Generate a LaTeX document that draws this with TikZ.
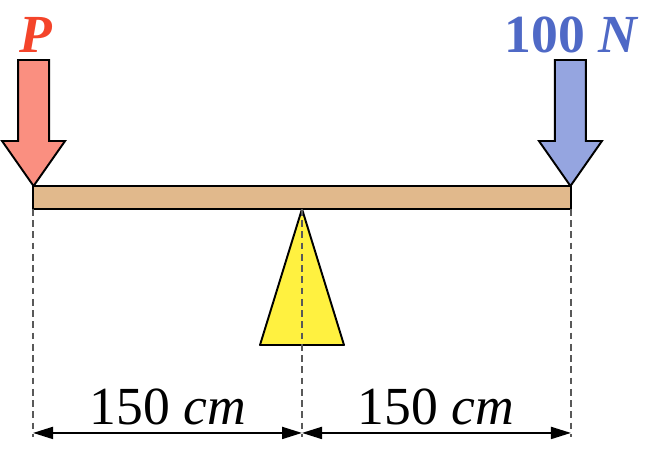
\documentclass[tikz,border=0pt]{standalone}
\usepackage{fontspec}
\setmainfont{Liberation Serif}
\usepackage{tikz}
\usetikzlibrary{positioning, arrows.meta}

\definecolor{beamfill}{HTML}{E1B98C}
\definecolor{redfill}{HTML}{FA8F80}
\definecolor{redtext}{HTML}{F4442A}
\definecolor{bluefill}{HTML}{95A5E0}
\definecolor{bluetext}{HTML}{4F69C6}
\definecolor{supportfill}{HTML}{FFF140}
\definecolor{dashgray}{HTML}{595959}

\tikzset{
        beam/.style={draw, line width=1.1pt, fill=beamfill, minimum width=10.76cm, minimum height=0.46cm, inner sep=0pt, outer sep=0pt},
        force/.style={draw, line width=1.1pt, line join=miter},
        guide/.style={dashgray, line width=1.2pt, dash pattern=on 3.8pt off 2.6pt},
        dimline/.style={line width=1.1pt, {Triangle[length=0.4cm,width=0.24cm]}-{Triangle[length=0.4cm,width=0.24cm]}},
        dimtext/.style={font=\fontsize{30.5}{36}\selectfont, inner sep=0pt, anchor=base},
        loadtext/.style={font=\fontsize{30.5}{36}\selectfont\bfseries, inner sep=0pt, anchor=base}
}

\begin{document}
\begin{tikzpicture}[x=0.02cm, y=0.02cm]
        \useasboundingbox (0,0) rectangle (645,462);

        \node[beam] (beam) at (302,264.5) {};

        \coordinate (tipl) at ([xshift=0.01cm]beam.north west);
        \coordinate (tipr) at ([xshift=-0.01cm]beam.north east);

        \draw[force, fill=redfill] (tipl) -- ++(-31.5,45) -- ++(16,0) -- ++(0,81) -- ++(31,0)
                -- ++(0,-81) -- ++(16,0) -- cycle;
        \draw[force, fill=bluefill] (tipr) -- ++(-31.5,45) -- ++(16,0) -- ++(0,81) -- ++(31,0)
                -- ++(0,-81) -- ++(16,0) -- cycle;

        \draw[force, line join=round, fill=supportfill] (beam.south) -- ++(-42,-136) -- ++(84,0) -- cycle;

        \foreach \anchor/\name in {south west/dl, south/dm, south east/dr}{
                \coordinate (\name) at ([yshift=-4.56cm]beam.\anchor);
                \draw[guide] (beam.\anchor) -- (\name);
        }

        \coordinate (al) at ([yshift=0.08cm]dl);
        \coordinate (am) at ([yshift=0.08cm]dm);
        \coordinate (ar) at ([yshift=0.08cm]dr);
        \draw[dimline] (al) -- (am);
        \draw[dimline] (am) -- (ar);

        \node[dimtext] (lenl) at (168,37) {150 \textit{cm}};
        \node[dimtext] (lenr) at (436,37) {150 \textit{cm}};

        \node[loadtext, text=redtext] (loadp) at (36,409) {\textit{P}};
        \node[loadtext, text=bluetext] (loadn) at (571.5,409) {100 \textit{N}};

\end{tikzpicture}
\end{document}
